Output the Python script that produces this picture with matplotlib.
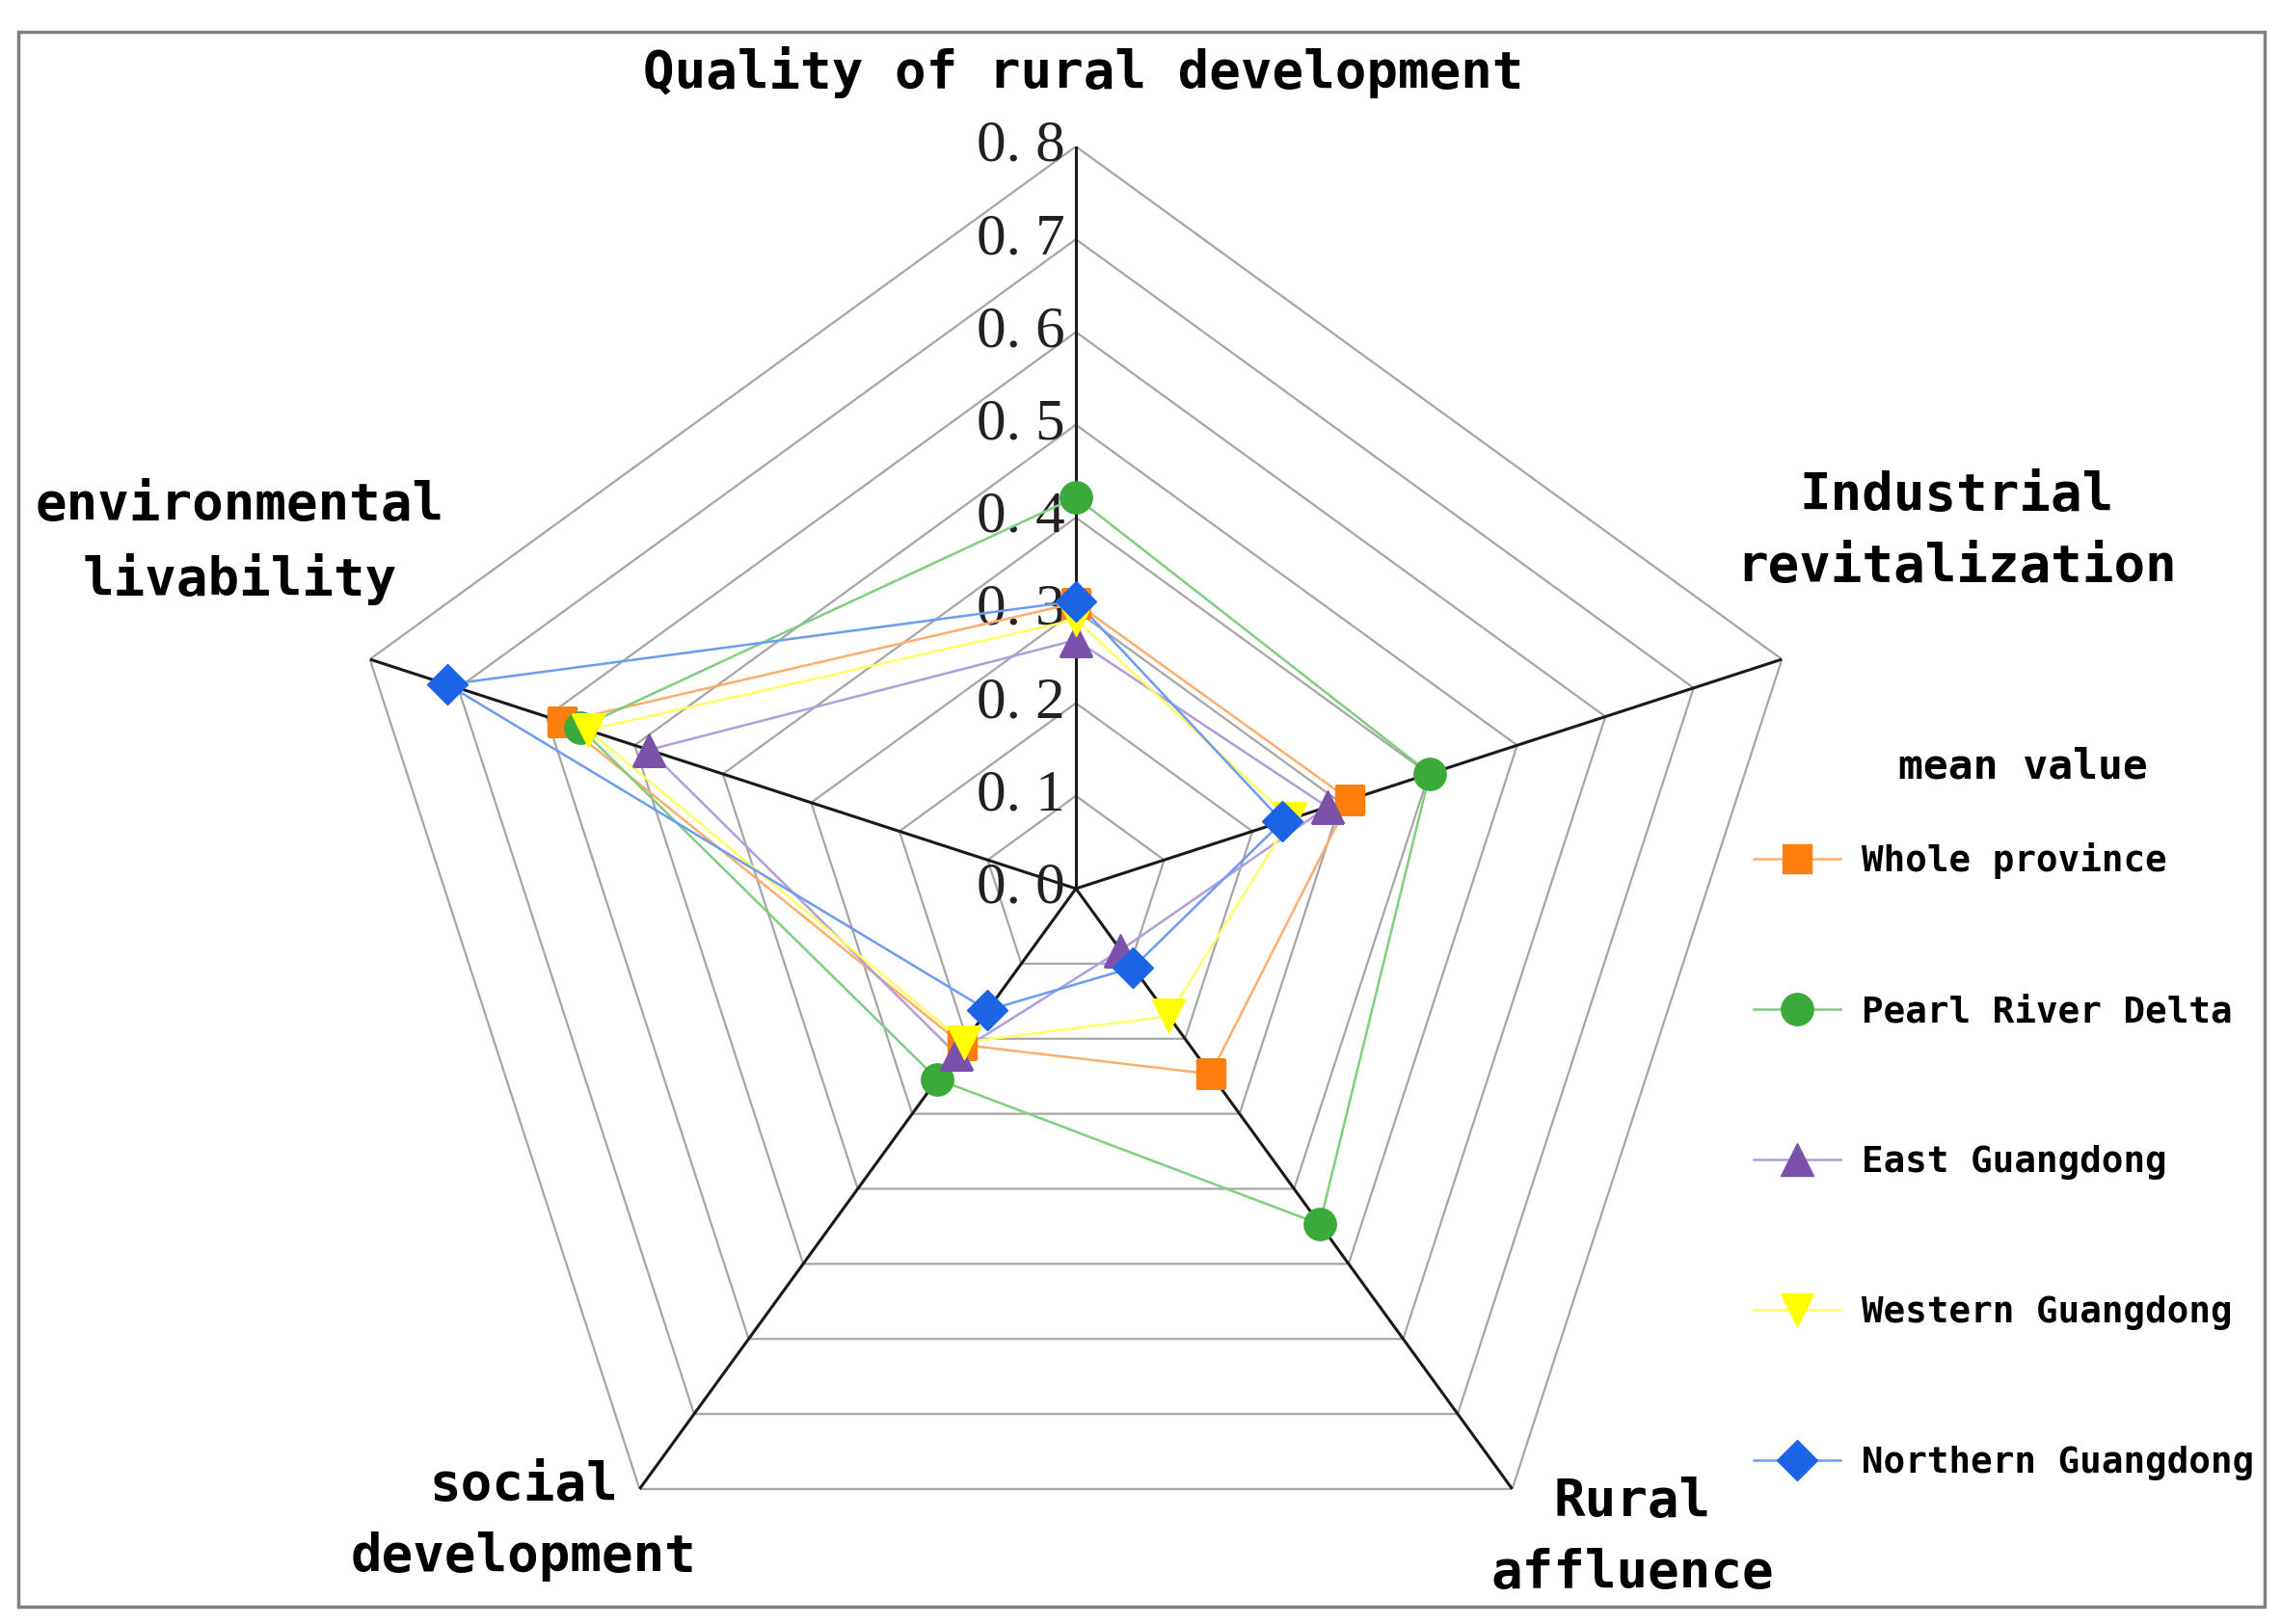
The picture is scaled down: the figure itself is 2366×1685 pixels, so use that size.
import numpy as np
import matplotlib
matplotlib.use("Agg")
import matplotlib.pyplot as plt
from matplotlib.patches import Rectangle

# dimensions, clockwise from top
dims = ["Quality of rural development", "Industrial\nrevitalization", "Rural\naffluence",
        "social\ndevelopment", "environmental\nlivability"]
ticks = [0.0, 0.1, 0.2, 0.3, 0.4, 0.5, 0.6, 0.7, 0.8]
tick_labels = ["0. 0", "0. 1", "0. 2", "0. 3", "0. 4", "0. 5", "0. 6", "0. 7", "0. 8"]

whole = [0.308, 0.310, 0.247, 0.208, 0.582]
prd = [0.422, 0.401, 0.447, 0.254, 0.562]
east = [0.268, 0.285, 0.082, 0.220, 0.484]
west = [0.290, 0.243, 0.170, 0.205, 0.553]
north = [0.310, 0.234, 0.105, 0.162, 0.712]

series = [("Whole province", whole), ("Pearl River Delta", prd), ("East Guangdong", east),
          ("Western Guangdong", west), ("Northern Guangdong", north)]
colors = ["#ff7f0e", "#3aaa3a", "#7b52ab", "#ffff00", "#1c64e6"]
line_colors = ["#ffae6b", "#7fcf7f", "#b39ddb", "#ffff66", "#6b9df0"]
markers = ["s", "o", "^", "v", "D"]
msizes = [21, 24, 24, 24, 21]

W, H = 2366, 1685
fig = plt.figure(figsize=(W / 100, H / 100), dpi=100)

cx, cy, R = 1116, 922, 770
ax = fig.add_axes([(cx - R) / W, (H - cy - R) / H, 2 * R / W, 2 * R / H], projection="polar")
ax.set_theta_offset(np.pi / 2)
ax.set_theta_direction(-1)
ax.set_ylim(0, 0.8)
ax.grid(False)
ax.set_xticks([])
ax.set_yticks([])
ax.spines["polar"].set_visible(False)
ax.patch.set_alpha(0)

n = len(dims)
ang = np.linspace(0, 2 * np.pi, n, endpoint=False)
ang_c = np.append(ang, ang[0])

# pentagon rings
for t in ticks[1:]:
    ax.plot(ang_c, [t] * (n + 1), color="#a6a6a6", lw=1.6, zorder=1)
# spokes
for a in ang:
    ax.plot([a, a], [0, 0.8], color="#1a1a1a", lw=2.2, zorder=2)

for t, lab in zip(ticks, tick_labels):
    ax.annotate(lab, (0, t), xytext=(-8, 0), textcoords="offset points",
                ha="right", va="center", fontsize=44, family="Liberation Serif",
                color="#222222", zorder=3)

for (name, vals), c, lc, m, ms in zip(series, colors, line_colors, markers, msizes):
    v = vals + vals[:1]
    ax.plot(ang_c, v, color=lc, lw=1.8, zorder=4)
    ax.plot(ang, vals, ls="none", marker=m, markersize=ms, color=c, zorder=5)

font = "DejaVu Sans Mono"
fig.text(1124 / W, 1 - 75 / H, dims[0], ha="center", va="center", fontsize=39,
         family=font, weight="bold")
fig.text(2030 / W, 1 - 551 / H, dims[1], ha="center", va="center", fontsize=39,
         family=font, weight="bold", linespacing=1.55)
fig.text(1693 / W, 1 - 1595 / H, dims[2], ha="center", va="center", fontsize=39,
         family=font, weight="bold", linespacing=1.55)
fig.text(543 / W, 1 - 1578 / H, dims[3], ha="center", va="center", fontsize=39,
         family=font, weight="bold", linespacing=1.55)
fig.text(249 / W, 1 - 563 / H, dims[4], ha="center", va="center", fontsize=39,
         family=font, weight="bold", linespacing=1.55)

# legend
handles = []
for (name, vals), c, lc, m, ms in zip(series, colors, line_colors, markers, msizes):
    h, = ax.plot([], [], color=lc, lw=1.8, marker=m, markersize=ms,
                 markerfacecolor=c, markeredgecolor=c)
    handles.append(h)
fig.text(2098 / W, 1 - 795 / H, "mean value", ha="center", va="center",
         family=font, fontsize=31, weight="bold")
leg = fig.legend(handles, [s[0] for s in series], loc="center left",
                 bbox_to_anchor=(1785 / W, 1 - 1205 / H), frameon=False,
                 prop={"family": font, "size": 27, "weight": "bold"}, labelspacing=3.2,
                 handlelength=2.4, handletextpad=0.6)

fig.patches.append(Rectangle((19 / W, 1 - 1667 / H), (2349 - 19) / W, (1667 - 33) / H,
                             transform=fig.transFigure, fill=False,
                             edgecolor="#808080", lw=2.5))

fig.savefig("out.png", dpi=100)
